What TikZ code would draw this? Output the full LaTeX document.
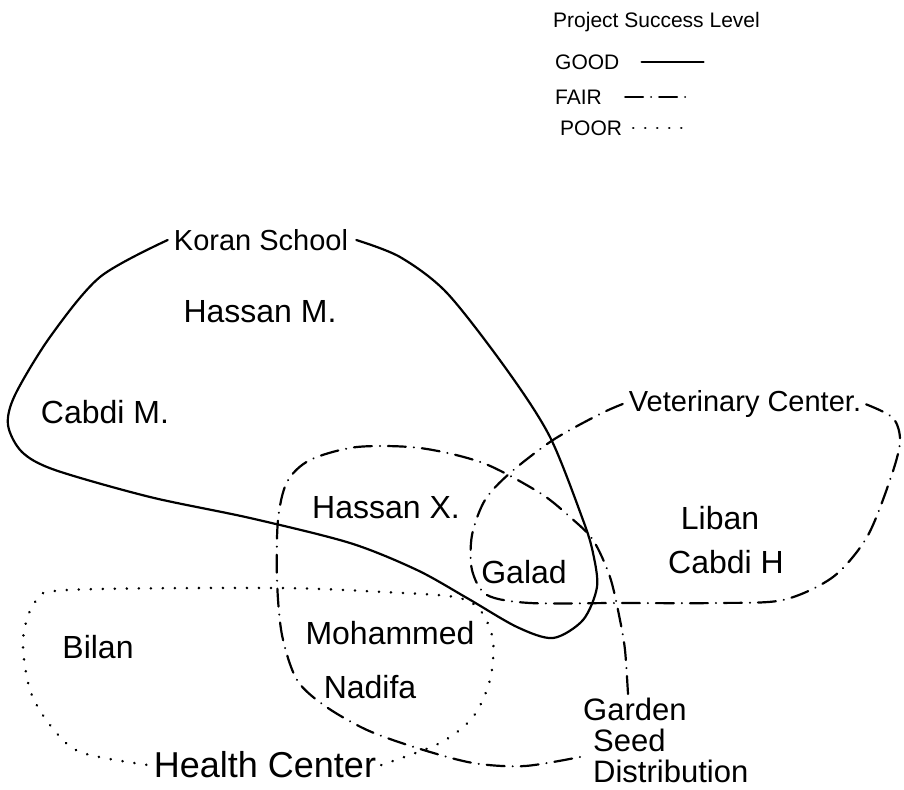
\documentclass[tikz,border=0pt]{standalone}
\usepackage{fontspec}
\setmainfont{Liberation Sans}
\usetikzlibrary{positioning}

\tikzset{
	good/.style={line width=2.2pt, line cap=round, line join=round},
	fair/.style={line width=2.2pt, line cap=round, dash pattern=on 18pt off 8pt on 0.01pt off 8pt},
	poor/.style={line width=2.8pt, line cap=round, dash pattern=on 0.01pt off 12pt},
	lbl/.style={font=\fontsize{32}{36}\selectfont, inner sep=0pt},
	legendtxt/.style={font=\fontsize{21}{24}\selectfont, inner sep=0pt, anchor=west}
}

\begin{document}
\begin{tikzpicture}[x=1pt,y=-1pt]
				\useasboundingbox (0,0) rectangle (904,789);
				
				% Legend
				\node[legendtxt] (title) at (553,22) {Project Success Level};
				\node[legendtxt] (goodkey) at (555,62) {GOOD};
				\node[legendtxt] (fairkey) at (555,97) {FAIR};
				\node[legendtxt] (poorkey) at (560,128) {POOR};
				\draw[good] ([xshift=22pt]goodkey.east) -- ++(62,0);
				\draw[fair] ([xshift=23pt]fairkey.east) -- ++(65,0);
				\draw[poor] ([xshift=11pt]poorkey.east) -- ++(52,0);
				
				% Project labels
				\node[lbl, font=\fontsize{29}{32}\selectfont] (koran) at (261,240) {Koran School};
				\node[lbl, font=\fontsize{29}{32}\selectfont] (vet) at (745,404) {Veterinary Center.};
				\node[lbl, font=\fontsize{36}{40}\selectfont] (health) at (265,765) {Health Center};
				\node[lbl, font=\fontsize{31}{31}\selectfont, anchor=north west, align=left] (garden) at (583,698)
					{Garden\\\hspace*{10pt}Seed\\\hspace*{10pt}Distribution};
				
				% People
				\node[lbl] (hassanm) at (260,312) {Hassan M.};
				\node[lbl] (cabdim) at (105,412) {Cabdi M.};
				\node[lbl] (hassanx) at (386,508) {Hassan X.};
				\node[lbl] (galad) at (524,572) {Galad};
				\node[lbl] (liban) at (720,518) {Liban};
				\node[lbl] (cabdih) at (726,562) {Cabdi H};
				\node[lbl] (bilan) at (98,647) {Bilan};
				\node[lbl] (mohammed) at (390,633) {Mohammed};
				\node[lbl] (nadifa) at (370,687) {Nadifa};
				
				% Koran School (good)
				\draw[good] plot[smooth] coordinates {([xshift=-6pt]koran.west) (100,277) (50,337) (15,395) (8,425) (22,452) (55,470) (150,497) (250,518) (350,543) (417,570) (467,598) (517,627) (553,638) (583,620) (597,587) (593,553) (583,520) (550,437) (507,370) (447,293) (400,257) ([xshift=8pt]koran.east)};
				
				% Veterinary Center (fair)
				\draw[fair] plot[smooth] coordinates {([xshift=-6pt]vet.west) (600,414) (553,440) (510,473) (485,500) (472,535) (472,570) (487,595) (530,603) (617,603) (717,603) (783,600) (833,577) (867,537) (890,480) (900,442) (893,418) ([xshift=4pt]vet.east)};
				
				% Garden Seed Distribution (fair)
				\draw[fair] plot[smooth] coordinates {([shift={(45,-4)}]garden.north west) (625,650) (620,620) (610,577) (593,540) (570,517) (540,493) (483,463) (420,448) (357,447) (310,460) (287,482) (278,520) (277,580) (282,635) (297,680) (325,706) (367,730) (417,748) (473,763) (525,766) ([shift={(2,58)}]garden.north west)};
				
				% Health Center (poor)
				\draw[poor] plot[smooth] coordinates {([xshift=5pt]health.east) (440,743) (473,717) (490,680) (493,640) (480,610) (455,597) (383,592) (277,588) (67,590) (35,602) (23,640) (30,690) (50,725) (80,752) ([xshift=-6pt]health.west)};
				
\end{tikzpicture}
\end{document}
